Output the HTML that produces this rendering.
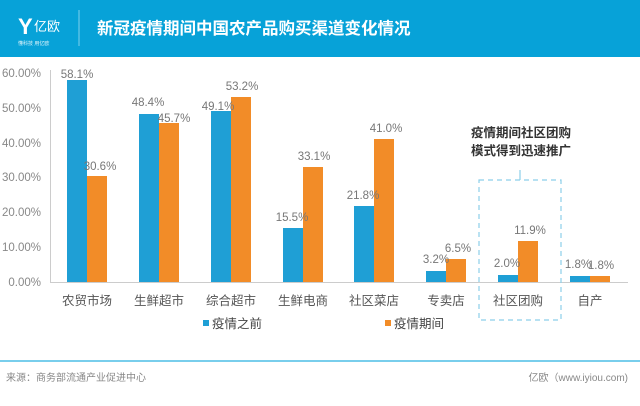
<!DOCTYPE html>
<html><head><meta charset="utf-8"><style>
body{margin:0;width:640px;height:401px;background:#fff;overflow:hidden;font-family:"Liberation Sans","Noto Sans CJK SC",sans-serif;}
</style></head><body>
<svg width="640" height="401" xmlns="http://www.w3.org/2000/svg" font-family="Liberation Sans, Noto Sans CJK SC, sans-serif">
<rect x="0" y="0" width="640" height="57" fill="#07a2d8"/>
<text x="18" y="34" fill="#fff" font-size="22" font-weight="bold">Y</text>
<text x="34" y="31" fill="#fff" font-size="13">亿欧</text>
<text x="18" y="45" fill="#e0f4fb" font-size="5">懂科技 用亿欧</text>
<line x1="79" y1="10" x2="79" y2="46" stroke="#7fd0ec" stroke-width="1"/>
<text x="97" y="34" fill="#fff" font-size="16.5" font-weight="bold">新冠疫情期间中国农产品购买渠道变化情况</text>
<g font-size="11.5" fill="#888" text-anchor="end">
<text x="41" y="77">60.00%</text><text x="41" y="112">50.00%</text><text x="41" y="147">40.00%</text>
<text x="41" y="181">30.00%</text><text x="41" y="216">20.00%</text><text x="41" y="251">10.00%</text><text x="41" y="286">0.00%</text>
</g>
<line x1="50.5" y1="70" x2="50.5" y2="282" stroke="#ccc"/>
<line x1="50" y1="282.5" x2="628" y2="282.5" stroke="#ccc"/>
<g font-size="11.5" fill="#777" text-anchor="middle">
<rect x="67" y="80" width="20" height="202" fill="#1f9fd5"/><rect x="87" y="176" width="20" height="106" fill="#f28c28"/>
<text x="77" y="78">58.1%</text><text x="100" y="170">30.6%</text>
<rect x="139" y="114" width="20" height="168" fill="#1f9fd5"/><rect x="159" y="123" width="20" height="159" fill="#f28c28"/>
<text x="148" y="106">48.4%</text><text x="174" y="122">45.7%</text>
<rect x="211" y="111" width="20" height="171" fill="#1f9fd5"/><rect x="231" y="97" width="20" height="185" fill="#f28c28"/>
<text x="218" y="110">49.1%</text><text x="242" y="90">53.2%</text>
<rect x="283" y="228" width="20" height="54" fill="#1f9fd5"/><rect x="303" y="167" width="20" height="115" fill="#f28c28"/>
<text x="292" y="221">15.5%</text><text x="314" y="160">33.1%</text>
<rect x="354" y="206" width="20" height="76" fill="#1f9fd5"/><rect x="374" y="139" width="20" height="143" fill="#f28c28"/>
<text x="363" y="199">21.8%</text><text x="386" y="132">41.0%</text>
<rect x="426" y="271" width="20" height="11" fill="#1f9fd5"/><rect x="446" y="259" width="20" height="23" fill="#f28c28"/>
<text x="436" y="263">3.2%</text><text x="458" y="252">6.5%</text>
<rect x="498" y="275" width="20" height="7" fill="#1f9fd5"/><rect x="518" y="241" width="20" height="41" fill="#f28c28"/>
<text x="507" y="267">2.0%</text><text x="530" y="234">11.9%</text>
<rect x="570" y="276" width="20" height="6" fill="#1f9fd5"/><rect x="590" y="276" width="20" height="6" fill="#f28c28"/>
<text x="578" y="268">1.8%</text><text x="601" y="269">1.8%</text>
</g>
<g font-size="12.5" fill="#555" text-anchor="middle">
<text x="87" y="305">农贸市场</text><text x="159" y="305">生鲜超市</text><text x="231" y="305">综合超市</text><text x="303" y="305">生鲜电商</text>
<text x="374" y="305">社区菜店</text><text x="446" y="305">专卖店</text><text x="518" y="305">社区团购</text><text x="590" y="305">自产</text>
</g>
<rect x="479" y="180" width="82" height="140" fill="none" stroke="#8ccfe9" stroke-width="1.2" stroke-dasharray="5,4"/>
<line x1="520" y1="170" x2="520" y2="180" stroke="#8ccfe9" stroke-width="1.2"/>
<g font-size="12.5" font-weight="bold" fill="#333">
<text x="471" y="137">疫情期间社区团购</text><text x="471" y="155">模式得到迅速推广</text>
</g>
<rect x="203" y="320" width="6" height="6" fill="#1f9fd5"/>
<text x="212" y="328" font-size="12.5" fill="#444">疫情之前</text>
<rect x="385" y="320" width="6" height="6" fill="#f28c28"/>
<text x="394" y="328" font-size="12.5" fill="#444">疫情期间</text>
<line x1="0" y1="361" x2="640" y2="361" stroke="#4dbde6" stroke-width="1.5"/>
<text x="6" y="381" font-size="10" fill="#888">来源：商务部流通产业促进中心</text>
<text x="628" y="381" font-size="10" fill="#888" text-anchor="end">亿欧（www.iyiou.com)</text>
</svg>
</body></html>
